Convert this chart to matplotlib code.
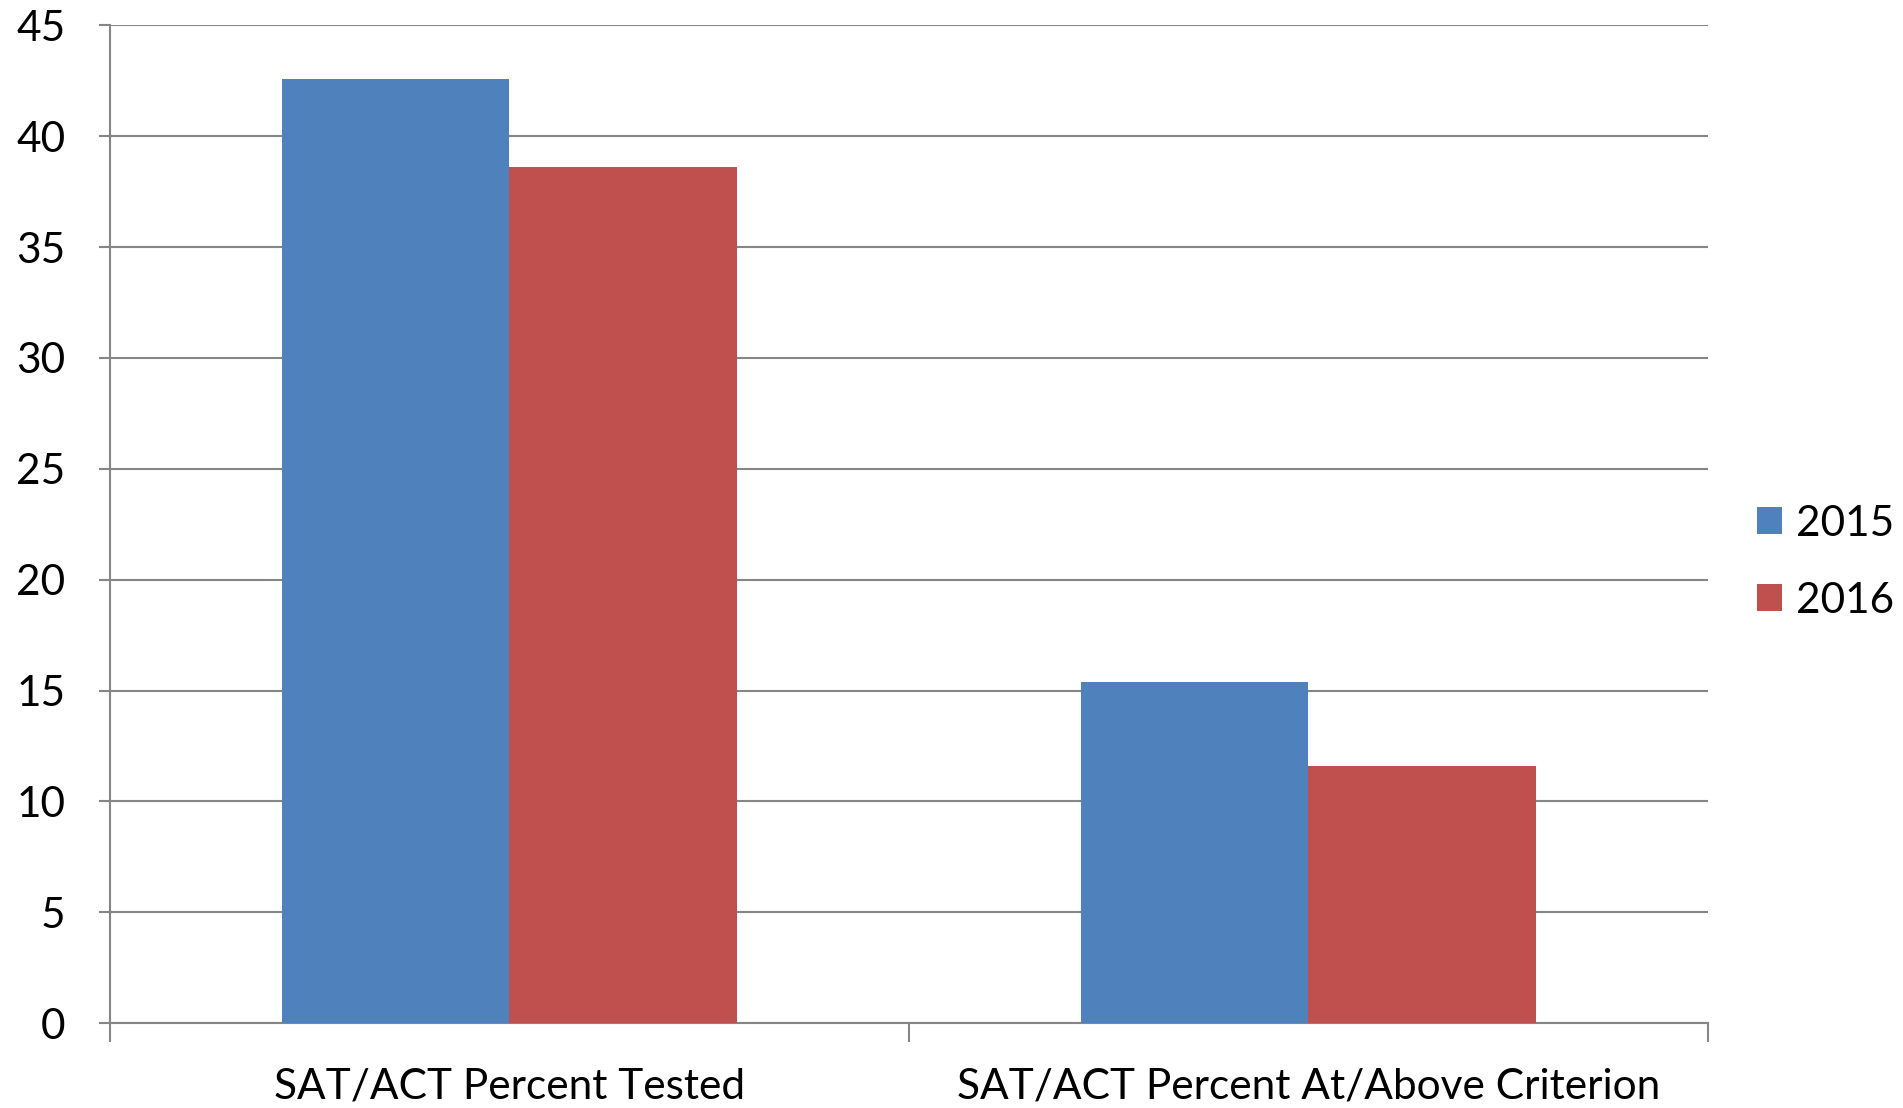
import numpy as np
import matplotlib.pyplot as plt

# chart data
categories = ['SAT/ACT Percent Tested', 'SAT/ACT Percent At/Above Criterion']
years = ['2015', '2016']
values_2015 = [42.6, 15.4]
values_2016 = [38.6, 11.6]
colors = ['#4F81BD', '#C0504D']

plt.rcParams['font.family'] = ['Lato', 'DejaVu Sans']

fig = plt.figure(figsize=(19.03, 11.08), dpi=100)
ax = fig.add_axes([0.0578, 0.0767, 0.8397, 0.9003])

x = np.arange(len(categories))
w = 0.285
ax.bar(x - w / 2, values_2015, w, color=colors[0], label=years[0], zorder=3)
ax.bar(x + w / 2, values_2016, w, color=colors[1], label=years[1], zorder=3)

ax.set_xlim(-0.5, len(categories) - 0.5)
ax.set_ylim(0, 45)
ax.set_yticks(np.arange(0, 50, 5))
ax.yaxis.grid(True, color='#868686', linewidth=1.5, zorder=0)

# boundary ticks without labels, labels centred under each group
ax.set_xticks(np.arange(-0.5, len(categories), 1.0))
ax.set_xticklabels([])
ax.set_xticks(x, minor=True)
ax.set_xticklabels(categories, minor=True)
ax.tick_params(axis='x', which='major', length=14, width=1.5, color='#868686', direction='out')
ax.tick_params(axis='x', which='minor', length=0, pad=32, labelsize=30.5)
ax.tick_params(axis='y', length=8, width=1.5, color='#868686', labelsize=30.5, pad=24)

for s in ['top', 'right']:
    ax.spines[s].set_visible(False)
for s in ['left', 'bottom']:
    ax.spines[s].set_color('#868686')
    ax.spines[s].set_linewidth(1.5)

ax.legend(loc='center left', bbox_to_anchor=(1.0307, 0.462), frameon=False, fontsize=30.5,
          borderpad=0, borderaxespad=0,
          handlelength=0.6, handleheight=0.6, handletextpad=0.32, labelspacing=0.92)

fig.savefig('out.png', dpi=100)
